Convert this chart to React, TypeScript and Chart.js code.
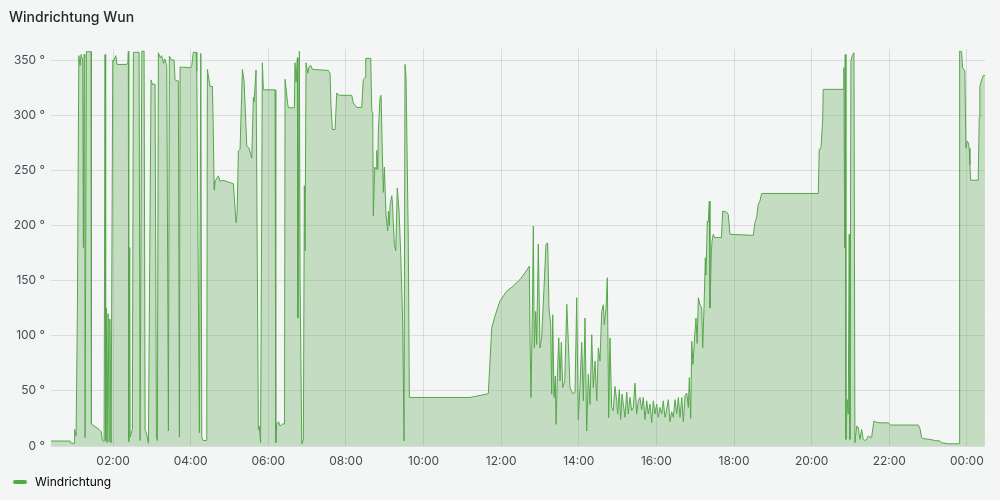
import React, { useEffect, useRef } from "react";
import { Chart, registerables } from "chart.js";

Chart.register(...registerables);

const chartTitle = "Windrichtung Wun";
const seriesName = "Windrichtung";

// minutes since 00:00 of the first day
const timeMinutes = [
  24, 53.5, 55, 60, 60.5, 62.8, 64.8, 67, 69, 70.5, 73, 74.1, 75.2, 76.2, 76.7, 78.7, 86, 86.5, 93.7, 98.4,
  101.5, 103.5, 106.1, 107.6, 108.5, 109.5, 110.7, 112.3, 113.8, 115, 116.9, 119.5, 120.5, 124.2, 126, 141.2, 143, 143.6, 144.2, 145.7,
  146.3, 149.8, 151.4, 160.2, 161.7, 164.4, 167.9, 169.5, 172, 174.6, 178.7, 180.7, 184.9, 187, 188.5, 190, 193, 195, 198, 200,
  203, 205.5, 207, 210, 214.3, 215.8, 220.9, 222.5, 223.6, 240, 241.6, 244.1, 248.3, 249.4, 253.4, 255.6, 257.1, 259.1, 264.8, 265.8,
  269.9, 273.5, 274.5, 276.1, 276.6, 277.7, 282.8, 285.4, 290, 300, 305.9, 310.1, 311.7, 313.7, 316.3, 319.9, 322.5, 326.7, 330.2, 334.4,
  336.9, 338, 341, 344.6, 346, 348, 350.8, 352.3, 370.4, 371.5, 373, 376, 378.1, 382, 385, 385.9, 390, 391, 400.2, 401.3,
  402.9, 404.9, 405.7, 408, 409.1, 411.7, 414.2, 415.7, 416.8, 418.3, 421, 423, 425.6, 428.1, 452.8, 455.4, 457, 459, 463.2, 465.8,
  470, 489, 491.4, 496.7, 504.4, 506.9, 509.5, 510.6, 518.3, 519.9, 521.4, 522.3, 524.5, 526.5, 527.6, 529.2, 530.1, 532.7, 534.3, 536.3,
  537.8, 539.4, 542, 544.6, 545.6, 547.1, 548.2, 550.8, 552, 552.8, 554.8, 557, 559.4, 562.1, 564.7, 567.8, 569.8, 571.3, 572.9, 576.4,
  578, 671.8, 700.1, 705.4, 710.5, 718.2, 728.6, 738.8, 749.1, 756.8, 763.5,
  764.6, 766.1, 768.1, 769.7, 771.2, 773.4, 774.9, 777.4, 780, 782.6, 786.2, 789.3, 791.9, 793.9, 796.6, 798.1, 799.7, 801.7, 803.7, 804.8,
  806.8, 809, 811, 813, 815.2, 818.3, 821.4, 823.8, 826.4, 830.6, 834.1, 836.8, 839.2, 841.8, 844.5, 847, 849.6, 852.2, 854.7, 857.3,
  860, 862.4, 865.1, 867.7, 870.2, 872.8, 875.4, 877.9, 879.4, 882.1, 884.1, 886.2, 888.2, 890.8, 893.3, 895.9, 898.6, 900.1, 902.6, 904.7,
  906.8, 908.8, 911.4, 914.1, 916.5, 919.1, 921.8, 924.2, 926.9, 929.5, 932, 934.6, 937.2, 939.7, 942.3, 945, 947.4, 950.1, 952.7, 955.2,
  957.8, 960.4, 962.9, 965.5, 968.2, 970.6, 973.3, 975.9, 978.4, 981, 983.6, 986.1, 988.8, 991.4, 993.9, 996.5, 999.2, 1001.6, 1004.3, 1006.9,
  1009.4, 1010.9, 1013, 1014.6, 1016.5, 1019.2, 1021.2, 1023, 1024.8, 1027.4, 1030, 1031.6, 1033.6, 1035.6, 1036.7, 1038.7, 1040.2, 1041.8, 1042.8, 1044.8,
  1046, 1047.9, 1050, 1055.7, 1060.5, 1062.5, 1068.6, 1071.1, 1073.7, 1109.7, 1112.3, 1114.9, 1117.4, 1120, 1122.7, 1210.2, 1211.7, 1214.4, 1217, 1217.9,
  1248.8, 1249.9, 1251, 1251.9, 1253, 1255, 1256.6, 1258.1, 1259.2, 1260.7, 1262.8, 1265.4, 1266.9, 1269.6, 1272, 1274.6, 1277.3, 1279.7, 1282.4, 1285,
  1287.5, 1290, 1292.7, 1296.3, 1300, 1305.6, 1318.4, 1322.1, 1364.8, 1367.4, 1370, 1372.5, 1382.8, 1390, 1398.3, 1400.9, 1411.1, 1428.1, 1428.8, 1431.8,
  1433.4, 1436.9, 1438.5, 1440.5, 1442.1, 1443.5, 1444.7, 1445.8, 1457.5, 1459.1, 1460.1, 1461.7, 1463.5, 1465.2, 1467.9,
];

// wind direction in degrees
const directionDeg = [
  4.5, 4.5, 2.4, 2.4, 15, 9, 121, 354, 345, 355, 350, 180, 355, 352, 7.5, 357.5, 357.5, 20, 17, 15,
  13, 5, 4, 355, 5, 125, 3, 120, 4, 115, 3, 350, 349, 354, 346, 346, 348, 358, 4, 180,
  8, 15, 357, 357, 5, 358, 358, 15, 10, 2.5, 332, 328, 328, 8, 5, 356.6, 352, 354, 347, 351,
  345, 13.6, 353.6, 350, 350, 332, 331, 8, 343.6, 343, 345, 357, 357, 340, 12, 356, 8, 5, 5, 341.5,
  326, 326, 300, 240, 232, 240, 245, 240, 241, 239, 238, 202.5, 210, 267.5, 269, 341.5, 331, 272, 270, 261,
  316, 312, 341, 15, 18, 3, 347.5, 323, 323, 3, 20, 22, 18, 20, 20, 332.5, 310, 306.7, 306.7, 347.5,
  330, 352, 116, 358, 150, 2, 6, 236, 177, 347.5, 338, 344, 345, 341.5, 340.5, 338, 307, 287, 287, 320,
  318, 318, 311, 307, 307, 332.5, 334, 351.5, 351.5, 304, 302, 208.5, 253, 251, 268, 251, 285, 316, 318, 265,
  230, 253, 208.5, 195, 213, 200, 218, 227, 220, 208, 183, 177, 234, 213, 174, 110, 4.5, 346, 335, 186,
  44, 44, 47.4, 107, 118, 131.5, 140.5, 145, 151, 157, 163,
  98, 44, 116, 199.5, 89, 122, 92, 183, 89, 98, 143.5, 183, 184, 125, 110, 47, 119, 44, 63.5, 19.6,
  62, 98, 59, 94, 53, 59, 128.5, 94, 53, 47.4, 48.5, 134.5, 24, 53, 94, 41, 116, 13.6, 65, 37.8,
  101, 53, 77, 41, 89, 77, 122, 128, 110, 125, 152.6, 25.7, 98, 34.7, 32, 54, 41, 29, 51, 24,
  47, 38, 26, 49, 29, 44, 32, 35, 57, 29, 41, 44, 33, 44, 24, 41, 29, 38, 21, 41,
  29, 38, 26, 35, 29, 41, 26, 33, 42, 22, 31, 26, 42, 29, 44, 26, 44, 22, 46, 48,
  35, 62, 25, 95, 74, 100, 116, 93, 134.5, 128, 125, 89, 125, 170.7, 155, 204, 203, 222, 125, 174,
  186, 192, 189, 189, 189, 213, 212, 210, 192, 191, 202.5, 207, 219, 222, 229, 229, 269, 270, 294.7, 323.4,
  323.4, 343, 180, 355, 6, 42, 29, 192, 6, 349, 354, 356.6, 3, 18, 17, 6, 15, 6, 5, 6,
  9, 8, 8, 22.7, 21.5, 21, 21, 19, 19, 16, 7.6, 6.7, 6, 5, 4.5, 3, 2, 2, 358, 357.5,
  343, 340, 270, 276.5, 275, 270, 255, 241, 241, 297.7, 326, 330, 333, 336, 336,
];

const xTickMinutes = [120, 240, 360, 480, 600, 720, 840, 960, 1080, 1200, 1320, 1440];
const yTickValues = [0, 50, 100, 150, 200, 250, 300, 350];

const GREEN = "#56a64b";
const FILL = "rgba(86,166,75,0.3)";
const GRID = "rgba(36,41,46,0.12)";
const TEXT = "#464c54";
const FONT = "Inter";

function formatMinutes(v: number): string {
  const h = Math.round(v / 60) % 24;
  return String(h).padStart(2, "0") + ":00";
}

export default function App() {
  const ref = useRef<HTMLCanvasElement>(null);

  useEffect(() => {
    const marker = document.createElement("canvas");
    marker.width = 14;
    marker.height = 4;
    const mctx = marker.getContext("2d")!;
    mctx.fillStyle = GREEN;
    mctx.beginPath();
    (mctx as any).roundRect(0, 0, 14, 4, 2);
    mctx.fill();

    const chart = new Chart(ref.current!, {
      type: "line",
      data: {
        datasets: [
          {
            label: seriesName,
            data: timeMinutes.map((t, i) => ({ x: t, y: directionDeg[i] })),
            borderColor: GREEN,
            backgroundColor: FILL,
            borderWidth: 1,
            fill: "origin",
            pointRadius: 0,
            tension: 0,
          },
        ],
      },
      options: {
        responsive: false,
        animation: false,
        layout: { padding: { left: 9, right: 15, top: 9, bottom: 2 } },
        plugins: {
          title: {
            display: true,
            text: chartTitle,
            align: "start",
            color: "#24292e",
            font: { family: FONT, size: 14, weight: 500 as any },
            padding: { top: 0, bottom: 23.2 },
          },
          legend: {
            position: "bottom",
            align: "start",
            labels: {
              usePointStyle: true,
              pointStyleWidth: 18,
              padding: 2,
              color: TEXT,
              font: { family: FONT, size: 12 },
              generateLabels: () => [
                {
                  text: seriesName,
                  fillStyle: GREEN,
                  strokeStyle: GREEN,
                  lineWidth: 0,
                  pointStyle: marker as any,
                  hidden: false,
                  datasetIndex: 0,
                } as any,
              ],
            },
          },
          tooltip: { enabled: false },
        },
        scales: {
          x: {
            type: "linear",
            min: 24,
            max: 1468,
            afterBuildTicks: (s: any) => {
              s.ticks = xTickMinutes.map((v) => ({ value: v }));
            },
            afterFit: (s: any) => {
              s.height = 28;
            },
            grid: { color: GRID, drawTicks: false },
            border: { display: false },
            ticks: {
              padding: 8,
              color: TEXT,
              font: { family: FONT, size: 12 },
              maxRotation: 0,
              autoSkip: false,
              callback: (v: any) => formatMinutes(Number(v)),
            },
          },
          y: {
            min: 0,
            max: 360,
            afterBuildTicks: (s: any) => {
              s.ticks = yTickValues.map((v) => ({ value: v }));
            },
            afterFit: (s: any) => {
              s.width = 42;
            },
            grid: { color: GRID, drawTicks: false },
            border: { display: false },
            ticks: {
              padding: 6,
              color: TEXT,
              font: { family: FONT, size: 12 },
              callback: (v: any) => `${v} °`,
            },
          },
        },
      },
    });
    return () => chart.destroy();
  }, []);

  return (
    <div style={{ position: "absolute", left: 0, top: 0, width: 1000, height: 500, background: "#f4f5f5" }}>
      <canvas ref={ref} width={1000} height={500} style={{ display: "block" }} />
    </div>
  );
}
